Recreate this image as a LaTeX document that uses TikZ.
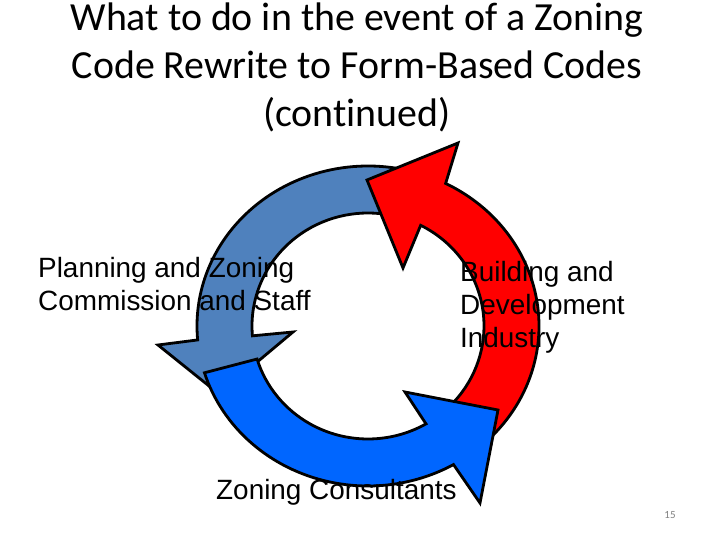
\documentclass[tikz,border=0pt]{standalone}
\usepackage{fontspec}
\setmainfont{Carlito}[Ligatures=NoCommon]
\newfontfamily\arialfont{Liberation Sans}
\definecolor{steel}{RGB}{79,129,189}
\definecolor{zred}{RGB}{255,0,0}
\definecolor{zblue}{RGB}{0,102,255}
\begin{document}
\begin{tikzpicture}[
  x=1bp, y=1bp,
  ring/.style={draw=black, line width=2.8bp, line join=miter},
  title/.style={anchor=north, align=center, inner sep=0pt, font=\fontsize{40}{48}\selectfont},
  lbl/.style={anchor=north west, align=left, inner sep=0pt, font=\arialfont\fontsize{28}{33}\selectfont}
]
  \useasboundingbox (0,0) rectangle (720,540);
  \coordinate (c) at (368,214);

  % planning arrow, top to left
  \coordinate (pwo) at (158,195);
  \coordinate (ptip) at (219,146);
  \coordinate (pwi) at (293,208);
  \draw[ring, fill=steel] ([shift={(78:171 and 160)}]c)
    arc[start angle=78, end angle=185, x radius=171, y radius=160]
    -- (pwo) -- (ptip) -- (pwi) -- ([shift={(185:116 and 113)}]c)
    arc[start angle=185, end angle=78, x radius=116, y radius=113] -- cycle;

  % industry arrow, bottom right to top
  \coordinate (bwo) at (458,397);
  \coordinate (btip) at (367,360);
  \coordinate (bwi) at (403,272);
  \draw[ring, fill=zred] ([shift={(-45:171 and 160)}]c)
    arc[start angle=-45, end angle=63, x radius=171, y radius=160]
    -- (bwo) -- (btip) -- (bwi) -- ([shift={(63:116 and 113)}]c)
    arc[start angle=63, end angle=-45, x radius=116, y radius=113] -- cycle;

  % consultants arrow, left to bottom right
  \coordinate (zwo) at (480,37);
  \coordinate (ztip) at (498,130);
  \coordinate (zwi) at (405,148);
  \draw[ring, fill=zblue] ([shift={(197:171 and 160)}]c)
    arc[start angle=197, end angle=300, x radius=171, y radius=160]
    -- (zwo) -- (ztip) -- (zwi) -- ([shift={(300:116 and 113)}]c)
    arc[start angle=300, end angle=197, x radius=116, y radius=113] -- cycle;

  \node[title] (title) at (357,537) {What to do in the event of a Zoning\\Code Rewrite to Form-Based Codes\\(continued)};
  \node[lbl] (planning) at (38,283) {Planning and Zoning\\Commission and Staff};
  \node[lbl] (building) at (460,279) {Building and\\Development\\Industry};
  \node[lbl, anchor=base west] (consult) at (216,40) {Zoning Consultants};
  \node[font=\fontsize{11}{13}\selectfont, text=gray] (page) at (670,25) {15};
\end{tikzpicture}
\end{document}
